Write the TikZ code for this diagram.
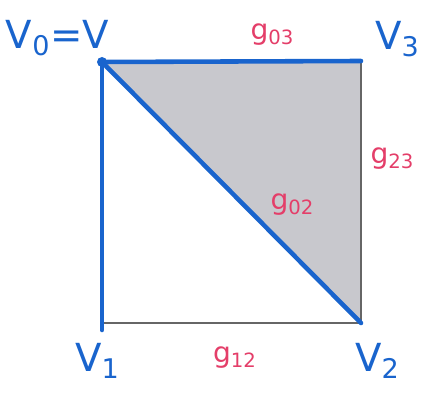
\documentclass[tikz,border=0pt]{standalone}
\usepackage{fontspec}
\setmainfont{DejaVu Sans}
\definecolor{penblue}{RGB}{25,100,205}
\definecolor{penpink}{RGB}{228,62,105}
\definecolor{facegrey}{RGB}{200,200,205}
\tikzset{
    vlabel/.style={text=penblue, font=\fontsize{22}{24}\selectfont},
    glabel/.style={text=penpink, font=\fontsize{16}{18}\selectfont},
    bluepen/.style={penblue, line width=2.6pt, line cap=round},
    thinedge/.style={black!60, line width=0.6pt}
}
\begin{document}
\begin{tikzpicture}
    \useasboundingbox (0,0) rectangle (8.5,7.86);

    % Vertices
    \coordinate (v0) at (2.04,6.62);
    \coordinate (v3) at (7.22,6.64);
    \coordinate (v1) at (2.04,1.40);
    \coordinate (v2) at (7.22,1.40);
    \coordinate (v1end) at (2.04,1.26);

    % Shaded face
    \fill[facegrey] (v0) -- (v3) -- (v2) -- cycle;

    % Thin edges
    \draw[thinedge] (v3) -- (v2);
    \draw[thinedge] (v1) -- (v2);

    % Blue edges
    \draw[bluepen] (v0) -- (v3);
    \draw[bluepen] (v0) -- (v1end);
    \draw[bluepen] (v0) -- (v2);
    \fill[penblue] (v0) circle (0.1);

    % Vertex labels
    \node[vlabel] (l0) at (1.15,7.1) {V\textsubscript{0}=V};
    \node[vlabel] (l3) at (7.95,7.08) {V\textsubscript{3}};
    \node[vlabel] (l1) at (1.95,0.64) {V\textsubscript{1}};
    \node[vlabel] (l2) at (7.55,0.64) {V\textsubscript{2}};

    % Edge labels
    \node[glabel] (g03) at (5.45,7.16) {g\textsubscript{03}};
    \node[glabel] (g23) at (7.85,4.68) {g\textsubscript{23}};
    \node[glabel] (g02) at (5.85,3.76) {g\textsubscript{02}};
    \node[glabel] (g12) at (4.7,0.7) {g\textsubscript{12}};
\end{tikzpicture}
\end{document}
